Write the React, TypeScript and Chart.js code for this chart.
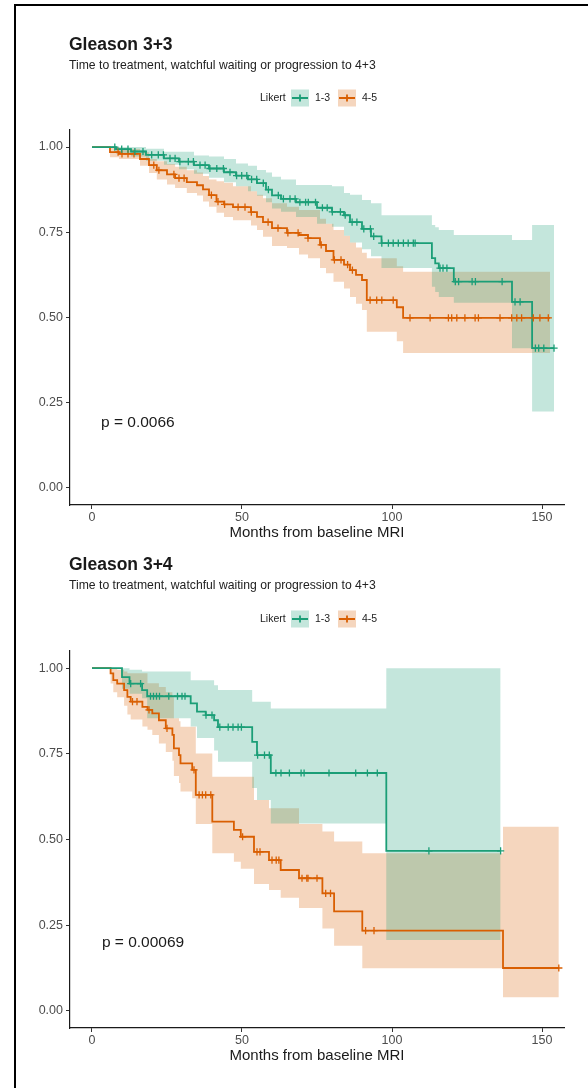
import React, { useEffect, useRef } from "react";
import { Chart, registerables } from "chart.js";

Chart.register(...registerables);

// ---------------- data ----------------
const X_TICKS = [0, 50, 100, 150];
const Y_TICKS = [0, 0.25, 0.5, 0.75, 1];
const LEGEND_TITLE = "Likert";
const GROUPS = ["1-3", "4-5"];
const TITLES = ["Gleason 3+3", "Gleason 3+4"];
const SUBTITLE = "Time to treatment, watchful waiting or progression to 4+3";
const X_TITLE = "Months from baseline MRI";
const P_TEXTS = ["p = 0.0066", "p = 0.00069"];

// Gleason 3+3, Likert 1-3
const A_T = [0, 8, 13, 18, 24, 29, 34, 39, 44, 48, 52, 55, 58, 60, 63, 68, 75, 80, 84, 86, 90, 93, 96.5, 113.3, 114.4, 115.6, 120.6, 140, 146.7, 154];
const A_S = [1, 0.994, 0.987, 0.977, 0.967, 0.957, 0.947, 0.937, 0.926, 0.916, 0.905, 0.894, 0.875, 0.858, 0.848, 0.838, 0.822, 0.81, 0.8, 0.78, 0.76, 0.738, 0.718, 0.674, 0.659, 0.645, 0.605, 0.546, 0.41, 0.41];
const A_UP = [1, 1, 1, 0.995, 0.986, 0.986, 0.975, 0.972, 0.965, 0.952, 0.945, 0.933, 0.925, 0.913, 0.905, 0.889, 0.889, 0.885, 0.865, 0.86, 0.845, 0.835, 0.8, 0.771, 0.765, 0.757, 0.742, 0.727, 0.771, 0.771];
const A_LO = [1, 0.98, 0.972, 0.96, 0.948, 0.935, 0.922, 0.91, 0.897, 0.885, 0.87, 0.857, 0.838, 0.82, 0.81, 0.795, 0.775, 0.766, 0.74, 0.72, 0.7, 0.68, 0.645, 0.59, 0.575, 0.56, 0.543, 0.41, 0.224, 0.224];
const A_CENS = [7.6, 9.9, 12, 14.3, 17, 19.9, 22.1, 23.8, 26, 27.7, 29.3, 32.1, 33.8, 36, 37.7, 39.3, 41.6, 43.8, 46, 48.2, 49.9, 51.6, 53.2, 54.9, 57.1, 58.8, 62.1, 63.8, 66, 67.7, 69.3, 71.2, 72.1, 74.5, 76.8, 78.4, 80.1, 82.8, 84.4, 86.7, 88.3, 90.6, 92.8, 93.9, 96.6, 98.8, 100.4, 102.1, 103.8, 105.4, 107.1, 107.7, 116, 117, 118.3, 121.1, 122.2, 126.7, 127.8, 136.7, 141, 142.7, 147.8, 148.9, 150.6, 154];

// Gleason 3+3, Likert 4-5
const B_T = [0, 6, 9, 16, 19, 21.6, 25, 27.7, 31.6, 35, 37, 39, 41.5, 44, 47, 53, 55, 57, 60, 65, 69, 72, 76, 78, 80.5, 84, 86, 88, 90, 91.6, 101.6, 103.7, 152.7];
const B_S = [1, 0.985, 0.98, 0.965, 0.947, 0.932, 0.92, 0.909, 0.897, 0.888, 0.876, 0.859, 0.84, 0.832, 0.824, 0.809, 0.795, 0.78, 0.762, 0.748, 0.742, 0.733, 0.713, 0.695, 0.669, 0.655, 0.639, 0.625, 0.61, 0.551, 0.53, 0.499, 0.499];
const B_UP = [1, 1, 0.995, 0.985, 0.965, 0.958, 0.95, 0.942, 0.932, 0.925, 0.915, 0.905, 0.9, 0.895, 0.885, 0.87, 0.86, 0.85, 0.835, 0.825, 0.815, 0.815, 0.79, 0.775, 0.757, 0.74, 0.72, 0.705, 0.69, 0.674, 0.65, 0.634, 0.634];
const B_LO = [1, 0.97, 0.965, 0.945, 0.924, 0.905, 0.89, 0.88, 0.865, 0.858, 0.84, 0.825, 0.807, 0.795, 0.785, 0.77, 0.757, 0.737, 0.71, 0.704, 0.685, 0.674, 0.645, 0.63, 0.605, 0.585, 0.56, 0.54, 0.522, 0.458, 0.43, 0.396, 0.396];
const B_CENS = [8.7, 10, 12, 14, 20.6, 22.3, 27.3, 29, 30.7, 39.8, 42, 44.2, 48.7, 51, 53.1, 58.7, 62, 65.3, 68.7, 72, 76.4, 80.8, 83, 85.2, 86.8, 92.7, 94.9, 96.6, 100.4, 106, 112.7, 118.8, 119.9, 121.6, 124.3, 127.7, 128.8, 136, 139.9, 141.6, 143.2, 147.1, 149.3, 152.1];

// Gleason 3+4, Likert 1-3
const C_T = [0, 10, 12.5, 16.7, 18.4, 32.9, 35, 37.9, 40.7, 42, 53.4, 55, 59.6, 98.1, 136.2];
const C_S = [1, 0.974, 0.955, 0.936, 0.918, 0.897, 0.873, 0.863, 0.848, 0.828, 0.785, 0.746, 0.694, 0.467, 0.467];
const C_UP = [1, 1, 0.995, 0.99, 0.99, 0.965, 0.965, 0.965, 0.95, 0.936, 0.902, 0.902, 0.882, 1, 1];
const C_LO = [1, 0.94, 0.925, 0.912, 0.854, 0.83, 0.796, 0.796, 0.76, 0.727, 0.65, 0.615, 0.547, 0.207, 0.207];
const C_CENS = [12.9, 16.2, 19.5, 20.5, 21.5, 22.5, 25.6, 28.5, 30, 31, 38, 40, 42.6, 45.4, 47, 48.7, 49.8, 55.2, 57.5, 59.1, 61.3, 63, 65.8, 69.7, 70.7, 79, 87.9, 91.8, 95.1, 112.3, 136.2];

// Gleason 3+4, Likert 4-5
const D_T = [0, 6.2, 7.1, 8.4, 10.7, 11.8, 12.9, 16.8, 18.5, 20.1, 22.3, 24.6, 26.8, 27.3, 29, 29.5, 33.4, 34.6, 40.1, 47.3, 49.6, 54, 59, 62.9, 69, 76.8, 80.7, 90.1, 137, 155.6];
const D_S = [1, 0.985, 0.965, 0.955, 0.936, 0.916, 0.902, 0.887, 0.878, 0.868, 0.848, 0.824, 0.805, 0.766, 0.746, 0.722, 0.703, 0.63, 0.552, 0.528, 0.508, 0.464, 0.44, 0.411, 0.387, 0.343, 0.29, 0.234, 0.125, 0.125];
const D_UP = [1, 1, 1, 0.995, 0.99, 0.985, 0.985, 0.985, 0.956, 0.956, 0.945, 0.93, 0.915, 0.854, 0.845, 0.829, 0.829, 0.751, 0.683, 0.683, 0.683, 0.615, 0.591, 0.591, 0.545, 0.523, 0.494, 0.46, 0.537, 0.537];
const D_LO = [1, 0.955, 0.93, 0.915, 0.89, 0.865, 0.85, 0.83, 0.82, 0.805, 0.78, 0.755, 0.73, 0.685, 0.665, 0.64, 0.62, 0.545, 0.46, 0.435, 0.415, 0.37, 0.353, 0.33, 0.3, 0.24, 0.19, 0.124, 0.04, 0.04];
const D_CENS = [13.5, 15, 19, 25, 34, 35.7, 36.8, 37.9, 39.6, 50.2, 55, 56, 60, 61.4, 62.3, 70, 71.6, 72, 75, 77.9, 79.5, 91.2, 94, 155.6];

// p-value label position (data coordinates)
const P_POS = [
  [3, 0.19],
  [3.3, 0.2],
];

// ---------------- styling ----------------
const GREEN = "#1B9E77";
const ORANGE = "#D95F02";
const GREEN_FILL = "rgba(27,158,119,0.26)";
const ORANGE_FILL = "rgba(217,95,2,0.26)";
const FONT = '"Liberation Sans", Arial, Helvetica, sans-serif';

type Series = { t: number[]; s: number[]; up: number[]; lo: number[]; cens: number[] };

function stepValue(t: number[], s: number[], x: number) {
  let v = s[0];
  for (let i = 0; i < t.length; i++) if (t[i] <= x) v = s[i];
  return v;
}

function seriesDatasets(sr: Series, color: string, fill: string) {
  const pts = (arr: number[]) => sr.t.map((x, i) => ({ x, y: arr[i] }));
  return [
    {
      type: "line",
      data: pts(sr.up),
      borderWidth: 0,
      borderColor: "rgba(0,0,0,0)",
      backgroundColor: fill,
      pointRadius: 0,
      stepped: true,
      fill: "+1",
      order: 3,
    },
    {
      type: "line",
      data: pts(sr.lo),
      borderWidth: 0,
      borderColor: "rgba(0,0,0,0)",
      pointRadius: 0,
      stepped: true,
      fill: false,
      order: 3,
    },
    {
      type: "line",
      data: pts(sr.s),
      borderColor: color,
      borderWidth: 1.8,
      pointRadius: 0,
      stepped: true,
      fill: false,
      order: 2,
    },
    {
      type: "line",
      data: sr.cens.map((x) => ({ x, y: stepValue(sr.t, sr.s, x) })),
      showLine: false,
      pointStyle: "cross",
      pointRadius: 3.6,
      pointBorderWidth: 1.3,
      pointBorderColor: color,
      borderColor: color,
      backgroundColor: color,
      fill: false,
      order: 1,
    },
  ];
}

const textPlugin = {
  id: "kmText",
  afterDraw(chart: any, _args: any, opts: any) {
    const { ctx } = chart;
    ctx.save();
    ctx.textBaseline = "middle";
    ctx.textAlign = "left";
    ctx.fillStyle = "#1a1a1a";
    ctx.font = `bold 17.5px ${FONT}`;
    ctx.fillText(opts.title, 69, opts.titleY);
    ctx.font = `12.2px ${FONT}`;
    ctx.fillStyle = "#222";
    ctx.fillText(opts.subtitle, 69, opts.subtitleY);

    // legend
    const ly = opts.legendY;
    ctx.font = `10.5px ${FONT}`;
    ctx.fillStyle = "#222";
    ctx.fillText(LEGEND_TITLE, 260, ly);
    const keys = [
      { x: 291, color: GREEN, fill: GREEN_FILL, label: GROUPS[0], lx: 315 },
      { x: 338, color: ORANGE, fill: ORANGE_FILL, label: GROUPS[1], lx: 362 },
    ];
    keys.forEach((k) => {
      ctx.fillStyle = k.fill;
      ctx.fillRect(k.x, ly - 8.5, 18, 17);
      ctx.strokeStyle = k.color;
      ctx.lineWidth = 1.8;
      ctx.beginPath();
      ctx.moveTo(k.x + 1, ly);
      ctx.lineTo(k.x + 17, ly);
      ctx.moveTo(k.x + 9, ly - 3.6);
      ctx.lineTo(k.x + 9, ly + 3.6);
      ctx.stroke();
      ctx.fillStyle = "#222";
      ctx.fillText(k.label, k.lx, ly);
    });

    // p-value
    const px = chart.scales.x.getPixelForValue(opts.pPos[0]);
    const py = chart.scales.y.getPixelForValue(opts.pPos[1]);
    ctx.font = `15.5px ${FONT}`;
    ctx.fillStyle = "#1a1a1a";
    ctx.fillText(opts.pText, px, py);
    ctx.restore();
  },
};

type PanelCfg = {
  height: number;
  padTop: number;
  padBottom: number;
  series: [Series, Series];
  title: string;
  titleY: number;
  subtitleY: number;
  legendY: number;
  pText: string;
  pPos: number[];
};

function Panel({ cfg, top }: { cfg: PanelCfg; top: number }) {
  const ref = useRef<HTMLCanvasElement>(null);
  useEffect(() => {
    const datasets: any[] = [
      ...seriesDatasets(cfg.series[0], GREEN, GREEN_FILL),
      ...seriesDatasets(cfg.series[1], ORANGE, ORANGE_FILL),
    ];
    const chart = new Chart(ref.current as HTMLCanvasElement, {
      type: "line",
      data: { datasets },
      plugins: [textPlugin],
      options: {
        animation: false,
        responsive: false,
        devicePixelRatio: 1,
        layout: { padding: { top: cfg.padTop, bottom: cfg.padBottom, left: 20, right: 24 } },
        plugins: {
          legend: { display: false },
          tooltip: { enabled: false },
          kmText: {
            title: cfg.title,
            subtitle: SUBTITLE,
            titleY: cfg.titleY,
            subtitleY: cfg.subtitleY,
            legendY: cfg.legendY,
            pText: cfg.pText,
            pPos: cfg.pPos,
          },
        } as any,
        scales: {
          x: {
            type: "linear",
            min: -7.33,
            max: 157.33,
            afterBuildTicks: (scale: any) => {
              scale.ticks = X_TICKS.map((v) => ({ value: v }));
            },
            afterFit: (scale: any) => {
              scale.height = 37;
            },
            ticks: {
              callback: (v: any) => String(v),
              color: "#4d4d4d",
              font: { family: FONT, size: 12.5 },
              padding: 1,
              maxRotation: 0,
              autoSkip: false,
            },
            grid: {
              display: true,
              drawOnChartArea: false,
              drawTicks: true,
              tickLength: 4,
              tickColor: "#333",
              tickWidth: 1,
            },
            border: { display: true, color: "#1a1a1a", width: 1.2 },
            title: {
              display: true,
              text: X_TITLE,
              color: "#1a1a1a",
              font: { family: FONT, size: 15 },
              padding: 0,
            },
          },
          y: {
            type: "linear",
            min: -0.05,
            max: 1.05,
            afterBuildTicks: (scale: any) => {
              scale.ticks = Y_TICKS.map((v) => ({ value: v }));
            },
            afterFit: (scale: any) => {
              scale.width = 50;
            },
            ticks: {
              callback: (v: any) => Number(v).toFixed(2),
              color: "#4d4d4d",
              font: { family: FONT, size: 12.5 },
              padding: 3,
              autoSkip: false,
            },
            grid: {
              display: true,
              drawOnChartArea: false,
              drawTicks: true,
              tickLength: 4,
              tickColor: "#333",
              tickWidth: 1,
            },
            border: { display: true, color: "#1a1a1a", width: 1.2 },
          },
        },
      } as any,
    });
    return () => chart.destroy();
  }, []);
  return (
    <canvas
      ref={ref}
      width={588}
      height={cfg.height}
      style={{ position: "absolute", left: 0, top, width: 588, height: cfg.height }}
    />
  );
}

const PANEL1: PanelCfg = {
  height: 545,
  padTop: 130,
  padBottom: 3,
  series: [
    { t: A_T, s: A_S, up: A_UP, lo: A_LO, cens: A_CENS },
    { t: B_T, s: B_S, up: B_UP, lo: B_LO, cens: B_CENS },
  ],
  title: TITLES[0],
  titleY: 45,
  subtitleY: 66,
  legendY: 98,
  pText: P_TEXTS[0],
  pPos: P_POS[0],
};

const PANEL2: PanelCfg = {
  height: 543,
  padTop: 106,
  padBottom: 23,
  series: [
    { t: C_T, s: C_S, up: C_UP, lo: C_LO, cens: C_CENS },
    { t: D_T, s: D_S, up: D_UP, lo: D_LO, cens: D_CENS },
  ],
  title: TITLES[1],
  titleY: 20,
  subtitleY: 41,
  legendY: 74,
  pText: P_TEXTS[1],
  pPos: P_POS[1],
};

export default function App() {
  return (
    <div
      style={{
        position: "absolute",
        left: 0,
        top: 0,
        width: 588,
        height: 1088,
        background: "#fff",
        overflow: "hidden",
      }}
    >
      <Panel cfg={PANEL1} top={0} />
      <Panel cfg={PANEL2} top={545} />
      <div
        style={{
          position: "absolute",
          left: 14,
          top: 4,
          width: 600,
          height: 1100,
          borderLeft: "2px solid #000",
          borderTop: "2px solid #000",
          pointerEvents: "none",
        }}
      />
    </div>
  );
}
